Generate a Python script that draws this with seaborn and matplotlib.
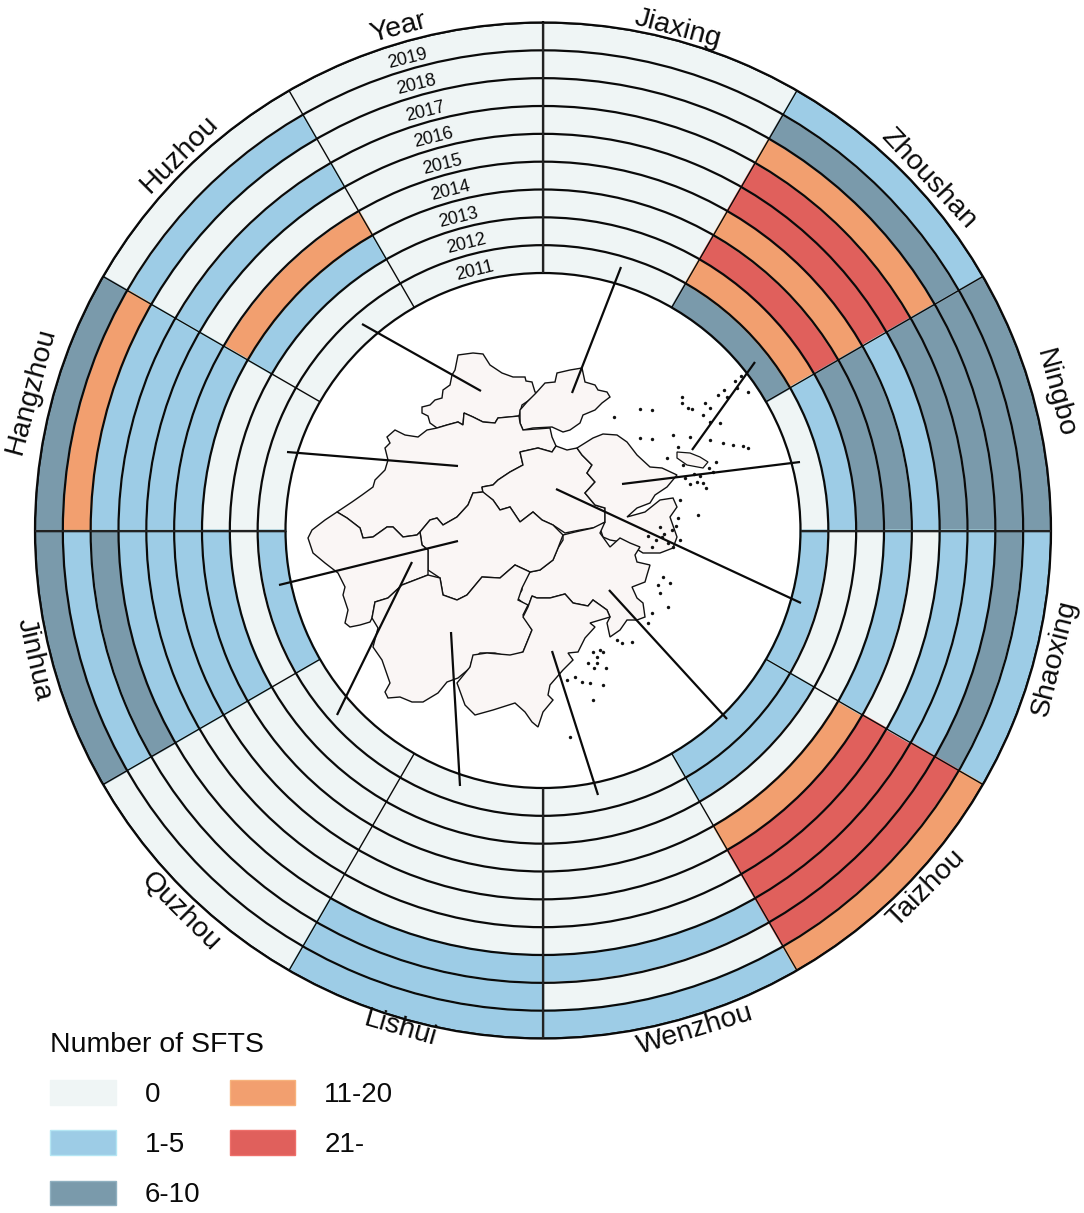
import matplotlib
matplotlib.use("Agg")
import matplotlib.pyplot as plt
from matplotlib.colors import to_hex
from matplotlib.patches import Patch
import numpy as np
import pandas as pd
import seaborn as sns

years = [2011, 2012, 2013, 2014, 2015, 2016, 2017, 2018, 2019]
level_labels = ["0", "1-5", "6-10", "11-20", "21-"]
level_colors = ["#eff5f5", "#9dcce6", "#7a9aab", "#f29f6f", "#e0605c"]
level_edges = ["#eff5f5", "#b4e6f4", "#8fb0c0", "#f7b27c", "#ee6f6a"]

# clockwise from the top, values are level indexes for 2011..2019
sectors = ["Jiaxing", "Zhoushan", "Ningbo", "Shaoxing", "Taizhou", "Wenzhou",
           "Lishui", "Quzhou", "Jinhua", "Hangzhou", "Huzhou", "Year"]
jiaxing = [0, 0, 0, 0, 0, 0, 0, 0, 0]
zhoushan = [2, 3, 4, 3, 4, 4, 3, 2, 1]
ningbo = [0, 1, 2, 2, 1, 2, 2, 2, 2]
shaoxing = [1, 0, 0, 1, 0, 1, 1, 2, 1]
taizhou = [1, 1, 0, 3, 4, 4, 4, 4, 3]
wenzhou = [0, 0, 0, 0, 0, 0, 1, 0, 1]
lishui = [0, 0, 0, 0, 0, 0, 1, 1, 1]
quzhou = [0, 0, 0, 0, 0, 0, 0, 0, 0]
jinhua = [1, 0, 1, 1, 1, 1, 2, 1, 2]
hangzhou = [0, 0, 0, 1, 1, 1, 1, 3, 2]
huzhou = [0, 0, 1, 3, 0, 1, 0, 1, 0]
year_col = [0, 0, 0, 0, 0, 0, 0, 0, 0]
sector_values = [jiaxing, zhoushan, ningbo, shaoxing, taizhou, wenzhou,
                 lishui, quzhou, jinhua, hangzhou, huzhou, year_col]

# label angle (deg clockwise from top), radius, rotation
label_angle = [15, 47.6, 75, 104, 133, 163, 196, 223.5, 255.8, 285.3, 316, 344]
label_radius = [519, 522, 530, 527, 524, 522, 518, 526, 525, 531, 523, 523]
label_rot = [-15, -47, -75, 76, 45, 17, -16, -45, -77, 75, 45, 15]

# map outlines, picture pixels
huzhou_map = [(458,355),(473,353),(483,354),(490,365),(502,373),(513,377),(525,377),(526,381),(532,382),(535,392),(538,393),
              (528,401),(522,405),(519,416),(510,417),(498,418),(495,423),(483,422),(473,417),(464,413),(463,425),(458,422),
              (447,425),(437,428),(430,423),(428,416),(422,413),(422,407),(430,405),(435,400),(442,398),(443,390),(450,385),
              (452,375),(455,370),(457,360)]
jiaxing_map = [(536,393),(545,383),(555,382),(557,373),(570,370),(582,368),(585,382),(595,385),(598,390),(607,392),(610,397),
               (602,403),(595,410),(583,415),(580,423),(570,430),(563,432),(552,427),(533,428),(523,430),(520,423),(520,410),(527,402)]
hangzhou_map = [(387,437),(395,430),(405,435),(418,437),(427,430),(437,428),(447,425),(458,422),(463,425),(464,413),(473,417),
                (483,422),(495,423),(498,418),(519,416),(520,423),(523,430),(550,428),(552,437),(556,446),(552,452),(538,448),
                (520,452),(523,465),(510,472),(498,480),(493,485),(482,487),(483,492),(473,493),(468,505),(457,517),(443,525),
                (437,518),(430,520),(420,532),(417,535),(403,537),(393,527),(387,527),(373,537),(363,538),(360,528),(347,518),
                (337,512),(352,502),(362,495),(373,487),(375,480),(385,470),(388,460),(385,448),(390,443)]
shaoxing_map = [(520,452),(538,448),(552,452),(556,446),(567,450),(577,448),(582,455),(592,465),(587,473),(595,482),(585,493),
                (595,505),(605,508),(605,522),(598,527),(580,530),(565,533),(553,525),(542,520),(533,512),(520,522),(510,507),
                (500,510),(493,500),(483,493),(482,487),(493,485),(498,480),(510,472),(523,465)]
ningbo_map = [(577,448),(593,438),(603,434),(617,435),(627,442),(637,455),(650,467),(662,468),(677,475),(667,487),(655,495),
              (650,503),(637,508),(627,517),(645,512),(660,500),(673,498),(677,507),(670,517),(677,537),(673,548),(660,553),
              (643,553),(627,543),(610,540),(603,537),(600,528),(605,522),(605,508),(595,505),(585,493),(595,482),(587,473),
              (592,465),(582,455)]
taizhou_map = [(563,535),(575,532),(593,528),(605,522),(600,533),(610,547),(620,538),(630,543),(640,547),(635,555),(637,562),
               (650,565),(647,575),(645,582),(632,587),(637,598),(643,603),(645,617),(637,620),(627,620),(620,630),(610,637),
               (607,623),(610,617),(607,610),(593,600),(588,606),(573,603),(565,594),(550,598),(537,598),(532,596),(528,607),
               (517,598),(522,590),(522,583),(530,572),(540,570),(553,560),(558,548),(563,540)]
jinhua_map = [(483,492),(473,493),(468,505),(457,517),(443,525),(437,518),(430,520),(420,532),(422,545),(428,550),(428,570),
              (440,578),(443,595),(457,600),(467,595),(482,577),(500,578),(515,565),(530,572),(540,570),(553,560),(558,548),
              (563,535),(553,525),(542,520),(533,512),(520,522),(510,507),(500,510),(493,500)]
quzhou_map = [(308,538),(312,530),(325,520),(337,512),(347,518),(360,528),(363,538),(373,537),(387,527),(393,527),(403,537),
              (417,535),(420,532),(422,545),(428,550),(428,575),(415,580),(402,585),(388,598),(375,602),(372,618),(370,622),
              (360,625),(350,627),(345,623),(348,610),(343,595),(345,587),(338,573),(325,563),(313,553)]
lishui_map = [(428,575),(440,578),(443,595),(457,600),(467,595),(482,577),(500,578),(515,565),(530,572),(522,588),(518,600),
              (528,605),(523,615),(532,630),(523,652),(510,657),(495,653),(480,653),(472,660),(470,668),(458,678),(447,682),
              (438,693),(423,702),(412,702),(400,697),(388,698),(385,692),(390,683),(382,660),(373,647),(378,628),(372,618),
              (375,602),(388,598),(402,585),(415,580)]
wenzhou_map = [(528,607),(532,596),(537,598),(550,598),(565,594),(573,603),(588,606),(593,600),(607,610),(610,617),(600,620),
               (590,623),(595,627),(585,638),(578,652),(568,653),(573,660),(563,670),(550,685),(548,695),(553,700),(543,712),
               (538,727),(532,722),(525,712),(515,703),(493,710),(475,715),(465,705),(457,683),(470,667),(473,655),(487,653),
               (510,655),(523,652),(532,630),(523,617)]
city_maps = [huzhou_map, jiaxing_map, hangzhou_map, shaoxing_map, ningbo_map,
             taizhou_map, jinhua_map, quzhou_map, lishui_map, wenzhou_map]
big_island = [(677,452),(690,453),(700,457),(708,462),(703,468),(687,465),(677,458)]
island_x = [614,640,652,682,688,682,692,705,710,718,727,737,748,703,710,720,640,652,673,690,710,723,733,743,748,678,667,
            683,697,703,713,698,680,678,660,662,680,673,663,658,670,660,668,652,648,617,622,632,593,603,597,588,567,575,
            582,590,603,593,570,685,690,694,700,706,709,716,672,664,668,676,656,652,648,600,594,606,597,735,741,724]
island_y = [417,409,410,397,408,403,409,403,408,395,397,388,392,415,422,423,438,439,435,437,440,443,445,446,448,447,458,
            465,482,483,472,515,500,518,527,537,540,547,577,585,583,593,607,613,623,640,643,642,652,652,663,663,680,677,
            682,683,685,700,737,478,484,474,476,488,468,462,530,534,543,526,540,547,536,650,668,668,657,381,376,390]

# leader lines: edge of ring end, city end (x0, y0, x1, y1)
leaders = [(621,267,572,393),(755,362,692,450),(800,462,622,484),(801,603,556,489),
           (727,719,609,590),(598,795,552,651),(460,786,451,632),(337,715,412,562),
           (279,585,458,541),(287,452,458,466),(362,324,481,391)]

sns.set_theme(style="white")
plt.rcParams["font.family"] = ["Liberation Sans", "DejaVu Sans"]

W, H = 1084, 1213
cx, cy, r_out, r_in = 543, 530.5, 508, 257.5
edges = np.linspace(r_in, r_out, len(years) + 1)
ring_w = edges[1] - edges[0]
thetas = np.deg2rad(np.arange(len(sectors)) * 30 + 15)
palette = dict(zip(level_labels, sns.color_palette(level_colors)))
edge_of = dict(zip(level_colors, level_edges))

fig = plt.figure(figsize=(W / 100, H / 100), dpi=100)
ax = fig.add_axes([(cx - r_out) / W, (H - cy - r_out) / H, 2 * r_out / W, 2 * r_out / H],
                  projection="polar")
ax.set_theta_zero_location("N")
ax.set_theta_direction(-1)

for i, year in enumerate(years):
    df = pd.DataFrame({
        "theta": thetas,
        "h": ring_w,
        "level": [level_labels[v[i]] for v in sector_values],
    })
    sns.barplot(df, x="theta", y="h", hue="level", palette=palette, native_scale=True,
                dodge=False, width=1, saturation=1, errorbar=None, legend=False,
                bottom=edges[i], linewidth=0, ax=ax)

# thin lighter rim inside each cell
for p in ax.patches:
    p.set_edgecolor(edge_of[to_hex(p.get_facecolor())])
    p.set_linewidth(1.6)

ax.set_xlabel("")
ax.set_ylabel("")
ax.set_thetalim(0, 2 * np.pi)
ax.set_rlim(0, r_out)
ax.set_xticks([])
ax.set_yticks(edges)
ax.set_yticklabels([])
ax.yaxis.grid(True, color="#0a0a0a", lw=1.6)
ax.xaxis.grid(False)
ax.set_axisbelow(False)
ax.spines["polar"].set_color("#0a0a0a")
ax.spines["polar"].set_linewidth(1.6)
ax.patch.set_alpha(0)

ax.vlines(np.deg2rad(np.arange(0, 360, 30)), r_in, r_out, color="#0a0a0a", lw=1.0, zorder=5)
ax.vlines(np.deg2rad(np.arange(0, 360, 90)), r_in, r_out, color="#222222", lw=1.6, zorder=5)

for name, a, r, rot in zip(sectors, label_angle, label_radius, label_rot):
    ax.text(np.deg2rad(a), r, name, rotation=rot, rotation_mode="anchor", ha="center",
            va="center", fontsize=20.5, color="#0a0a0a", clip_on=False, zorder=6)

for i, year in enumerate(years):
    ax.text(np.deg2rad(345.2 - i * 0.15), edges[i] + ring_w / 2 - 3, str(year), rotation=14,
            rotation_mode="anchor", ha="center", va="center", fontsize=13,
            color="#0a0a0a", zorder=6)

# map and leaders in picture pixels
ax_map = fig.add_axes([0, 0, 1, 1], facecolor="none")
ax_map.set_xlim(0, W)
ax_map.set_ylim(H, 0)
ax_map.axis("off")
for outline in city_maps:
    xs, ys = zip(*outline)
    ax_map.fill(xs, ys, facecolor="#faf6f5", edgecolor="#111111", lw=1.0)
xs, ys = zip(*big_island)
ax_map.fill(xs, ys, facecolor="#faf6f5", edgecolor="#111111", lw=0.9)
ax_map.scatter(island_x, island_y, s=6, color="#111111", linewidths=0)
for x0, y0, x1, y1 in leaders:
    ax_map.plot([x0, x1], [y0, y1], color="#0a0a0a", lw=1.6, solid_capstyle="butt")

handles = [Patch(facecolor=c, edgecolor=e, lw=1, label=l)
           for c, e, l in zip(level_colors, level_edges, level_labels)]
leg = ax_map.legend(handles=handles, title="Number of SFTS", ncol=2, frameon=False, fontsize=20,
                    title_fontsize=20.5, loc="upper left", bbox_to_anchor=(50, 1032),
                    bbox_transform=ax_map.transData, borderpad=0, borderaxespad=0,
                    handlelength=2.37, handleheight=1.0, handletextpad=1.04,
                    columnspacing=1.05, labelspacing=0.8, labelcolor="#0a0a0a")
leg._legend_box.align = "left"
leg.get_title().set_color("#0a0a0a")

fig.savefig("out.png", dpi=100)
